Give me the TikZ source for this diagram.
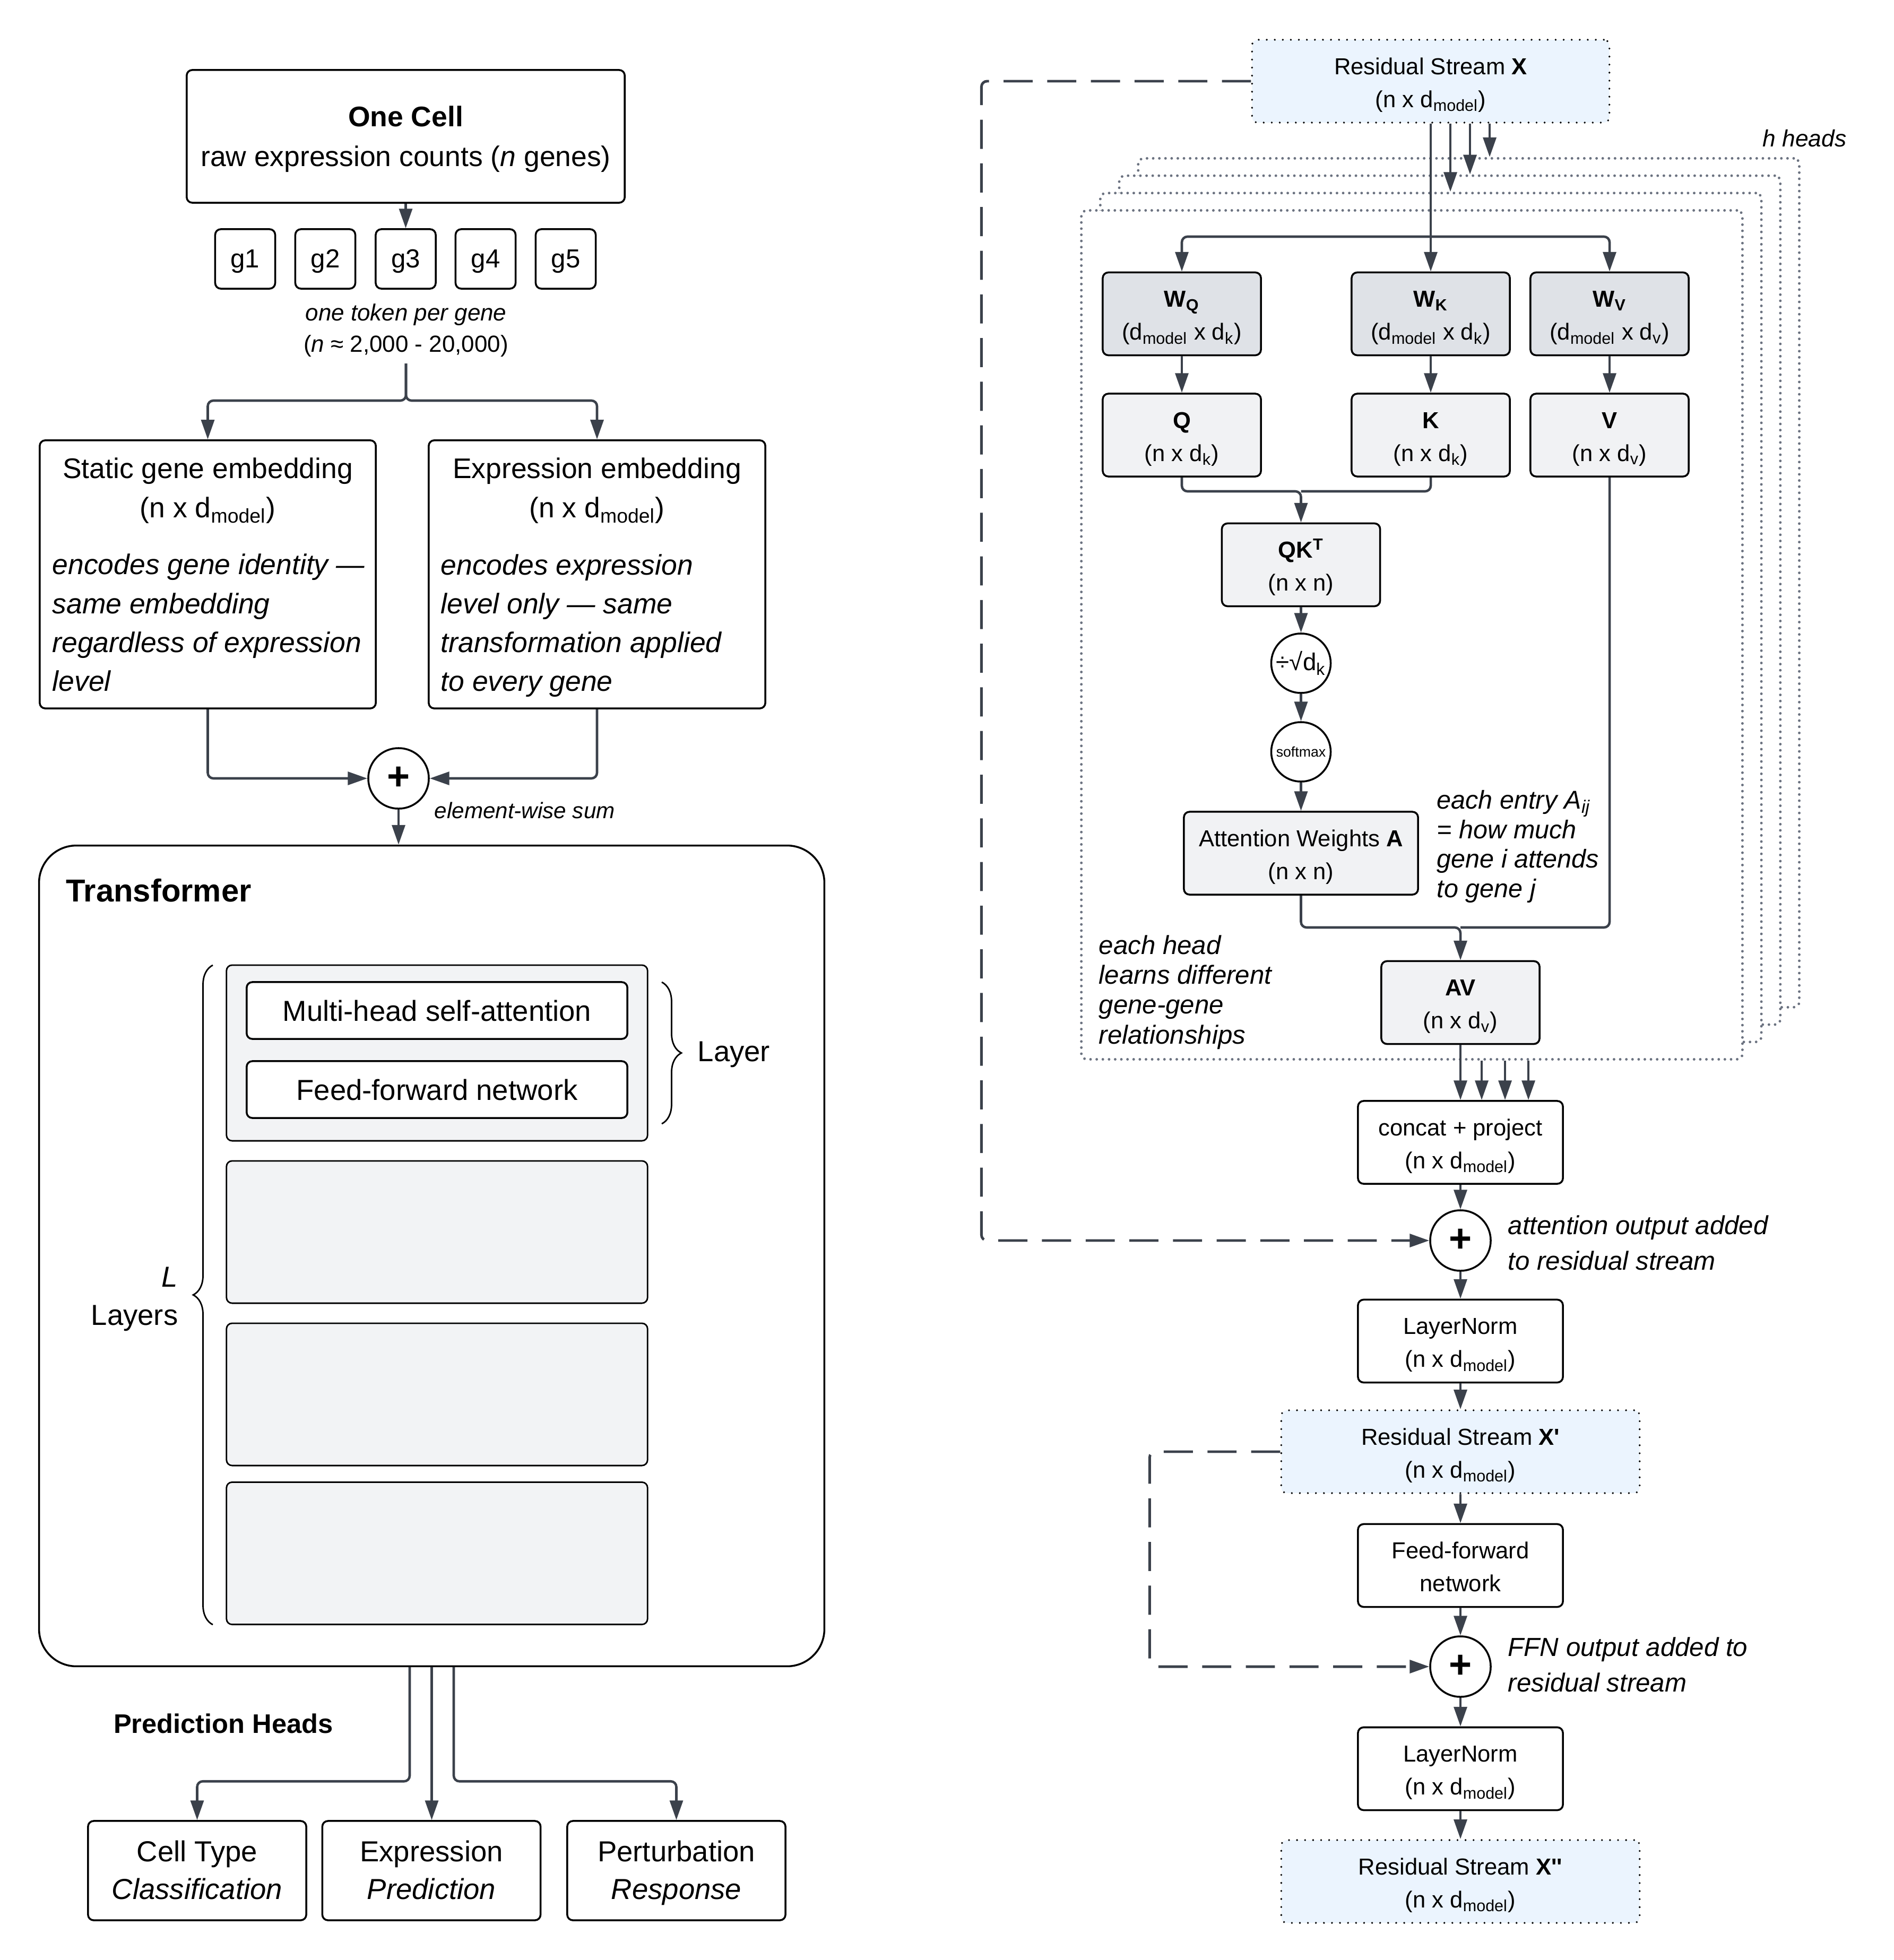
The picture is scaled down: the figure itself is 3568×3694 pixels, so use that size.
\documentclass[tikz,border=0pt]{standalone}
\usepackage{fontspec}
\setmainfont{Liberation Sans}
\usetikzlibrary{arrows.meta,decorations.pathreplacing}
\definecolor{lnk}{HTML}{3B414B}
\definecolor{wfill}{HTML}{DFE2E7}
\definecolor{mfill}{HTML}{F1F2F4}
\definecolor{layfill}{HTML}{F2F3F5}
\definecolor{rsfill}{HTML}{EBF4FE}
\definecolor{frgray}{HTML}{6B7280}
\newcommand{\topst}[1][1.09em]{\rule{0pt}{#1}}
\newcommand{\botst}{\rule[-0.25em]{0pt}{0pt}}

\begin{document}
\begin{tikzpicture}[x=0.01cm,y=-0.01cm,font=\fontsize{15.5}{21}\selectfont]

\tikzset{box/.style={draw=black, line width=1pt, rounded corners=3pt, fill=white, inner sep=0pt, align=center},
         rbox/.style={box, minimum width=3.86cm, minimum height=1.56cm, font=\fontsize{12.4}{17.6}\selectfont},
         wbox/.style={rbox, fill=wfill, minimum width=2.98cm},
         mbox/.style={rbox, fill=mfill, minimum width=2.98cm},
         rsbox/.style={rbox, fill=rsfill, line width=1.1pt, dash pattern=on 0pt off 4.3pt, line cap=round, minimum width=6.75cm},
         lay/.style={box, fill=layfill, line width=0.8pt, minimum width=7.93cm},
         frame/.style={draw=frgray, fill=white, line width=1.4pt, dash pattern=on 0pt off 3.3pt, line cap=round,
                       rounded corners=3pt, minimum width=12.45cm, minimum height=15.99cm},
         sumc/.style={circle, draw=black, line width=1pt, fill=white, inner sep=0pt, minimum size=1.14cm,
                      font=\fontsize{21}{21}\selectfont\bfseries},
         opc/.style={circle, draw=black, line width=1pt, fill=white, inner sep=0pt, minimum size=1.12cm,
                     font=\fontsize{13}{15}\selectfont},
         ar/.style={draw=lnk, line width=1.3pt, rounded corners=3pt, -{Triangle[length=10.5pt,width=7pt]}},
         ln/.style={draw=lnk, line width=1.3pt, rounded corners=3pt},
         skip/.style={ar, line width=1.4pt, dash pattern=on 15.6pt off 7.8pt},
         brc/.style={draw=black, line width=0.8pt, decorate, decoration={brace, amplitude=10.5pt}},
         note/.style={anchor=west, align=left, inner sep=0pt, font=\fontsize{14}{19}\selectfont\itshape}}

\useasboundingbox (0,0) rectangle (3568,3694);

\node[box, minimum width=8.25cm, minimum height=2.5cm, font=\fontsize{15.2}{21.3}\selectfont] (cell) at (764.5,257)
  {\topst[0.95em]\textbf{One Cell}\\raw expression counts (\textit{n} genes)\botst};

\foreach \i/\x in {1/462,2/613,3/764.5,4/915,5/1066}
  \node[box, minimum width=1.13cm, minimum height=1.12cm, font=\fontsize{14}{16}\selectfont] (g\i) at (\x,488) {\topst[0.87em]g\i};

\node[align=center, inner sep=0pt, font=\fontsize{12.5}{16.8}\selectfont] (tok) at (765,623)
  {\textit{one token per gene}\\(\textit{n} ≈ 2,000 - 20,000)};
\coordinate (fork) at (765,685);

\node[box, minimum width=6.33cm, minimum height=5.05cm] (sge) at (391.5,1082.5) {};
\node[box, minimum width=6.34cm, minimum height=5.05cm] (exe) at (1125,1082.5) {};
\node[align=center, inner sep=0pt, font=\fontsize{15.2}{21}\selectfont] (sget) at (391.5,925)
  {Static gene embedding\\(n x d\textsubscript{model})};
\node[align=center, inner sep=0pt, font=\fontsize{15.2}{21}\selectfont] (exet) at (1125,925)
  {Expression embedding\\(n x d\textsubscript{model})};
\node[note, font=\fontsize{15.2}{20.8}\selectfont\itshape] (sgeb) at (98,1173.5)
  {encodes gene identity —\\same embedding\\regardless of expression\\level};
\node[note, font=\fontsize{15.2}{20.8}\selectfont\itshape] (exeb) at (830,1179)
  {encodes expression\\level only — same\\transformation applied\\to every gene};

\node[sumc] (sum) at (751,1467) {+};
\node[note, font=\fontsize{12}{14}\selectfont\itshape] (sumt) at (818,1527) {element-wise sum};

\node[box, rounded corners=20pt, minimum width=14.79cm, minimum height=15.46cm] (trf) at (813.5,2367) {};
\node[anchor=west, inner sep=0pt, font=\fontsize{17}{20}\selectfont\bfseries] (trft) at (124,1678) {Transformer};

\node[lay, minimum height=3.31cm] (lay1) at (823.5,1984.5) {};
\node[box, minimum width=7.17cm, minimum height=1.07cm] (mha) at (823.5,1904.5) {Multi-head self-attention};
\node[box, minimum width=7.17cm, minimum height=1.07cm] (ffn) at (823.5,2053.5) {Feed-forward network};
\foreach \n/\y in {2/2322,3/2628,4/2927.5}
  \node[lay, minimum height=2.68cm] (lay\n) at (823.5,\y) {};

\draw[brc] (1247,1851) -- (1247,2118);
\node[anchor=west, inner sep=0pt] (layt) at (1314,1987) {Layer};
\draw[brc] (401,3062) -- (401,1819);
\node[anchor=east, align=right, inner sep=0pt, font=\fontsize{15.5}{20.5}\selectfont] (lt) at (336,2448) {\textit{L}\\Layers};

\node[font=\fontsize{14.4}{17}\selectfont\bfseries] (pht) at (421,3248) {Prediction Heads};
\node[box, minimum width=4.11cm, minimum height=1.87cm, font=\fontsize{15.5}{20.2}\selectfont] (ct) at (371.5,3525.5)
  {\topst[0.93em]Cell Type\\\textit{Classification}\botst};
\node[box, minimum width=4.11cm, minimum height=1.87cm, font=\fontsize{15.5}{20.2}\selectfont] (ep) at (813,3525.5)
  {\topst[0.93em]Expression\\\textit{Prediction}\botst};
\node[box, minimum width=4.11cm, minimum height=1.87cm, font=\fontsize{15.5}{20.2}\selectfont] (pr) at (1274.5,3525.5)
  {\topst[0.93em]Perturbation\\\textit{Response}\botst};

\draw[ar] (cell.south) -- (g3.north);
\draw[ar] (fork) -- ++(0,70) -| (sge.north);
\draw[ar] (fork) -- ++(0,70) -| (exe.north);
\draw[ar] (sge.south) |- (sum.west);
\draw[ar] (exe.south) |- (sum.east);
\draw[ar] (sum.south) -- (sum.south |- trf.north);
\draw[ar] ([xshift=-0.415cm]trf.south) -- ++(0,215) -| (ct.north);
\draw[ar] (trf.south) -- (trf.south |- ep.north);
\draw[ar] ([xshift=0.415cm]trf.south) -- ++(0,215) -| (pr.north);

\foreach \i in {4,3,2,1}
  \node[frame] (f\i) at ({2660.5+35.7*(\i-1)},{1196.5-32.7*(\i-1)}) {};

\node[rsbox, minimum width=6.73cm] (rsx) at (2696,153) {\topst Residual Stream \textbf{X}\\(n x d\textsubscript{model})\botst};
\node[anchor=east, inner sep=0pt, font=\fontsize{12.6}{15}\selectfont\itshape] (hh) at (3480,261) {h heads};

\node[wbox] (wq) at (2227,591.5) {\topst\textbf{W\textsubscript{Q}}\\(d\textsubscript{model} x d\textsubscript{k})\botst};
\node[wbox] (wk) at (2696,591.5) {\topst\textbf{W\textsubscript{K}}\\(d\textsubscript{model} x d\textsubscript{k})\botst};
\node[wbox] (wv) at (3033,591.5) {\topst\textbf{W\textsubscript{V}}\\(d\textsubscript{model} x d\textsubscript{v})\botst};
\node[mbox] (q) at (2227,820) {\topst\textbf{Q}\\(n x d\textsubscript{k})\botst};
\node[mbox] (k) at (2696,820) {\topst\textbf{K}\\(n x d\textsubscript{k})\botst};
\node[mbox] (v) at (3033,820) {\topst\textbf{V}\\(n x d\textsubscript{v})\botst};
\node[mbox] (qk) at (2451.5,1064.5) {\topst\textbf{QK\textsuperscript{T}}\\(n x n)\botst};
\node[opc] (sc) at (2451.5,1250) {÷√d\textsubscript{k}};
\node[opc, font=\fontsize{7.6}{9}\selectfont] (sm) at (2451.5,1417) {softmax};
\node[mbox, minimum width=4.41cm] (aw) at (2451.5,1608) {\topst Attention Weights \textbf{A}\\(n x n)\botst};
\node[mbox] (av) at (2752,1889.5) {\topst\textbf{AV}\\(n x d\textsubscript{v})\botst};
\node[note, font=\fontsize{13.8}{15.8}\selectfont\itshape] (awt) at (2707,1595.5)
  {each entry A\textsubscript{ij}\\= how much\\gene i attends\\to gene j};
\node[note, font=\fontsize{14}{16}\selectfont\itshape] (ht) at (2070,1870)
  {each head\\learns different\\gene-gene\\relationships};

\coordinate (qkv) at (2696,446);
\coordinate (qkj) at (2451.5,926);
\coordinate (avj) at (2752,1748);
\draw[ar] (rsx.south) -- (wk.north);
\foreach \d/\f in {0.37/2,0.74/3,1.11/4}
  \draw[ar] ([xshift=\d cm]rsx.south) -- ([xshift=\d cm]rsx.south |- f\f.north);
\draw[ar] (qkv) -| (wq.north);
\draw[ar] (qkv) -| (wv.north);
\draw[ar] (wq) -- (q);
\draw[ar] (wk) -- (k);
\draw[ar] (wv) -- (v);
\draw[ln] (k.south) |- (qkj);
\draw[ar] (q.south) |- (qkj) -- (qk.north);
\draw[ar] (qk) -- (sc);
\draw[ar] (sc) -- (sm);
\draw[ar] (sm) -- (aw);
\draw[ln] (v.south) |- (avj);
\draw[ar] (aw.south) |- (avj) -- (av.north);

\node[rbox] (cat) at (2752,2153) {\topst concat + project\\(n x d\textsubscript{model})\botst};
\node[sumc] (add1) at (2752,2338) {+};
\node[rbox] (ln1) at (2752,2527.5) {\topst LayerNorm\\(n x d\textsubscript{model})\botst};
\node[rsbox] (rsx1) at (2752,2736) {\topst Residual Stream \textbf{X\textquotesingle}\\(n x d\textsubscript{model})\botst};
\node[rbox] (ff) at (2752,2950.5) {\topst Feed-forward\\network\botst};
\node[sumc] (add2) at (2752,3141) {+};
\node[rbox] (ln2) at (2752,3333.5) {\topst LayerNorm\\(n x d\textsubscript{model})\botst};
\node[rsbox] (rsx2) at (2752,3546) {\topst Residual Stream \textbf{X\textquotesingle\textquotesingle}\\(n x d\textsubscript{model})\botst};
\node[note] (a1t) at (2841,2342.5) {attention output added\\to residual stream};
\node[note] (a2t) at (2841,3137) {FFN output added to\\residual stream};

\draw[ar] (av) -- (cat);
\foreach \d in {0.4,0.84,1.28}
  \draw[ar] ([xshift=\d cm]av.south |- f1.south) -- ([xshift=\d cm]cat.north);
\draw[ar] (cat) -- (add1);
\draw[ar] (add1) -- (ln1);
\draw[ar] (ln1) -- (rsx1);
\draw[ar] (rsx1) -- (ff);
\draw[ar] (ff) -- (add2);
\draw[ar] (add2) -- (ln2);
\draw[ar] (ln2) -- (rsx2);
\draw[skip] (rsx.west) -- ++(-508,0) |- (add1.west);
\draw[skip] (rsx1.west) -- ++(-246,0) |- (add2.west);

\end{tikzpicture}
\end{document}
